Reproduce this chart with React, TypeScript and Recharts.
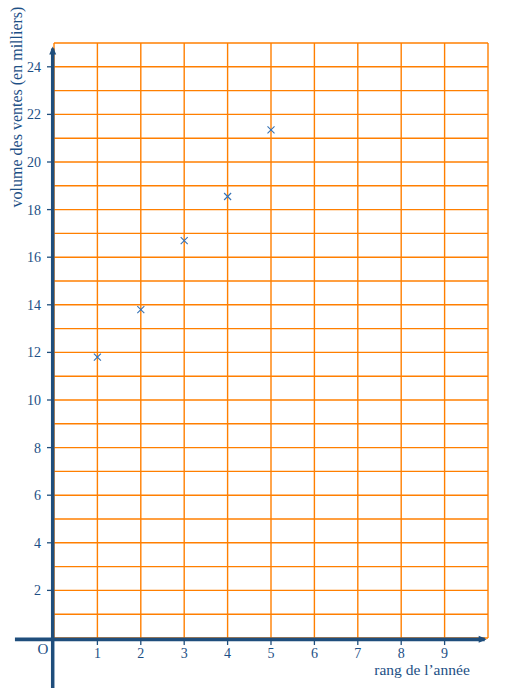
import React from "react";
import { ScatterChart, Scatter, XAxis, YAxis, ReferenceLine } from "recharts";

const years = [1, 2, 3, 4, 5];
const sales = [11.8, 13.8, 16.7, 18.55, 21.35];
const xTicks = [1, 2, 3, 4, 5, 6, 7, 8, 9];
const yTicks = [2, 4, 6, 8, 10, 12, 14, 16, 18, 20, 22, 24];
const gridX = [0, 1, 2, 3, 4, 5, 6, 7, 8, 9, 10];
const gridY = Array.from({ length: 26 }, (_, i) => i);
const xLabel = "rang de l\u2019année";
const yLabel = "volume des ventes (en milliers)";
const originLabel = "O";

const data = years.map((x, i) => ({ x, y: sales[i] }));

const BLUE = "#1f4e7c";
const TEXT = "#1c4f85";
const ORANGE = "#ff7f00";
const FONT = "'Liberation Serif', serif";

const Cross = (props: any) => {
  const { cx, cy } = props;
  const s = 3.5;
  return (
    <g stroke="#3572b5" strokeWidth={1.1}>
      <line x1={cx - s} y1={cy - s} x2={cx + s} y2={cy + s} />
      <line x1={cx - s} y1={cy + s} x2={cx + s} y2={cy - s} />
    </g>
  );
};

const VArrowAxis = (props: any) => {
  const { x1, y1, y2 } = props;
  const x = x1 - 1.3;
  const top = Math.min(y1, y2);
  const bottom = Math.max(y1, y2);
  return (
    <g>
      <line x1={x} y1={bottom} x2={x} y2={top + 2} stroke={BLUE} strokeWidth={3.5} />
      <polygon points={`${x},${top} ${x - 3.5},${top + 8} ${x + 3.5},${top + 8}`} fill={BLUE} />
    </g>
  );
};

const HArrowAxis = (props: any) => {
  const { x1, y1, x2 } = props;
  const y = y1 + 1.3;
  const left = Math.min(x1, x2);
  const right = Math.max(x1, x2);
  return (
    <g>
      <line x1={left} y1={y} x2={right - 2} y2={y} stroke={BLUE} strokeWidth={3.8} />
      <polygon points={`${right},${y} ${right - 8},${y - 3.5} ${right - 8},${y + 3.5}`} fill={BLUE} />
    </g>
  );
};

const YLabelContent = (props: any) => {
  const { viewBox } = props;
  const axisX = viewBox.x + viewBox.width;
  const x = axisX - 32;
  const y = viewBox.y + 64;
  return (
    <text
      x={x}
      y={y}
      transform={`rotate(-90, ${x}, ${y})`}
      textAnchor="middle"
      fill={TEXT}
      fontFamily={FONT}
      fontSize={16}
    >
      {yLabel}
    </text>
  );
};

const XLabelContent = (props: any) => {
  const { viewBox } = props;
  return (
    <g fontFamily={FONT} fill={TEXT}>
      <text x={viewBox.x + 368} y={viewBox.y + 37} textAnchor="middle" fontSize={15.5}>
        {xLabel}
      </text>
      <text x={viewBox.x - 11} y={viewBox.y + 16} textAnchor="middle" fontSize={15}>
        {originLabel}
      </text>
    </g>
  );
};

export default function App() {
  return (
    <div style={{ position: "absolute", left: 0, top: 0, background: "#fff" }}>
      <ScatterChart
        width={509}
        height={694}
        margin={{ top: 43, right: 21, bottom: 0, left: 0 }}
      >
        <XAxis
          type="number"
          dataKey="x"
          domain={[0, 10]}
          ticks={xTicks}
          height={56}
          axisLine={false}
          tickLine={{ stroke: BLUE, strokeWidth: 1.3 }}
          tickSize={7}
          tickMargin={3}
          tick={{ fill: TEXT, fontFamily: FONT, fontSize: 14 }}
          interval={0}
          label={<XLabelContent />}
        />
        <YAxis
          type="number"
          dataKey="y"
          domain={[0, 25]}
          ticks={yTicks}
          width={54}
          axisLine={false}
          tickLine={{ stroke: BLUE, strokeWidth: 1.3 }}
          tickSize={7}
          tickMargin={6}
          tick={{ fill: TEXT, fontFamily: FONT, fontSize: 14 }}
          interval={0}
          label={<YLabelContent />}
        />
        {gridX.map((v) => (
          <ReferenceLine key={`gx${v}`} x={v} stroke={ORANGE} strokeWidth={1.4} ifOverflow="visible" />
        ))}
        {gridY.map((v) => (
          <ReferenceLine key={`gy${v}`} y={v} stroke={ORANGE} strokeWidth={1.4} ifOverflow="visible" />
        ))}
        <ReferenceLine
          segment={[{ x: 0, y: -2.1 }, { x: 0, y: 24.85 }]}
          ifOverflow="visible"
          shape={<VArrowAxis />}
        />
        <ReferenceLine
          segment={[{ x: -0.9, y: 0 }, { x: 9.97, y: 0 }]}
          ifOverflow="visible"
          shape={<HArrowAxis />}
        />
        <Scatter data={data} shape={<Cross />} isAnimationActive={false} />
      </ScatterChart>
    </div>
  );
}
